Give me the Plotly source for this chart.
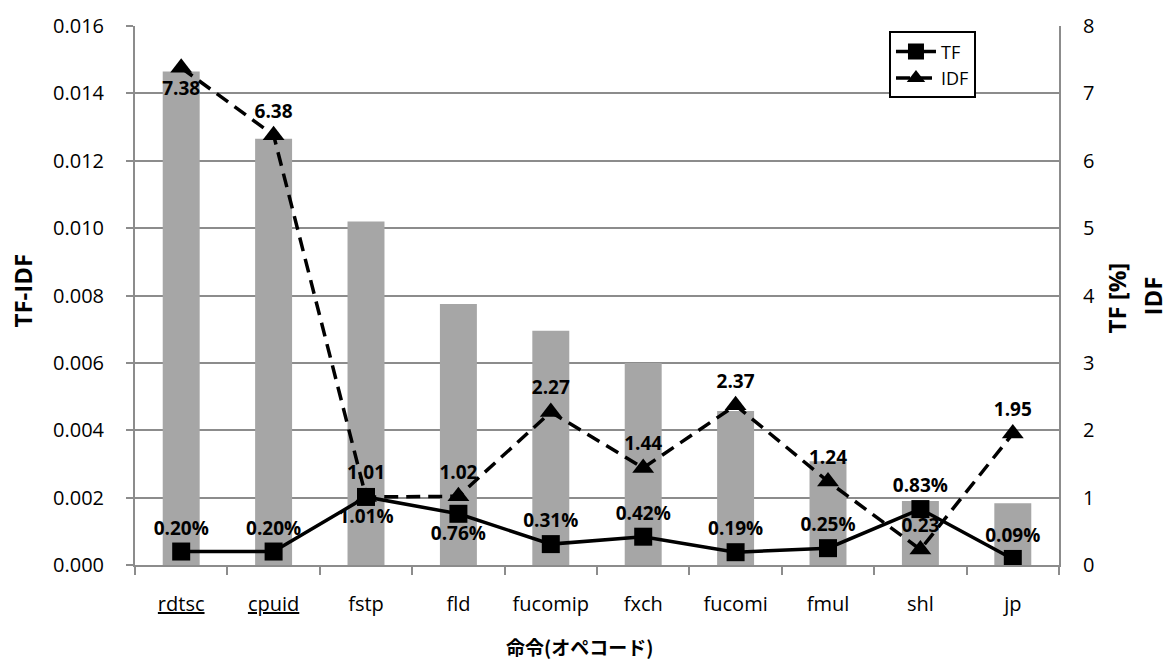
import plotly.graph_objects as go

# Opcodes ranked by TF-IDF
opcodes = ["rdtsc", "cpuid", "fstp", "fld", "fucomip", "fxch", "fucomi", "fmul", "shl", "jp"]
tick_labels = ["<u>rdtsc</u>", "<u>cpuid</u>", "fstp", "fld", "fucomip", "fxch", "fucomi", "fmul", "shl", "jp"]

tfidf = [0.01465, 0.01265, 0.0102, 0.00775, 0.00695, 0.0060, 0.00457, 0.00308, 0.0019, 0.00183]
tf_pct = [0.20, 0.20, 1.01, 0.76, 0.31, 0.42, 0.19, 0.25, 0.83, 0.09]
idf = [7.38, 6.38, 1.01, 1.02, 2.27, 1.44, 2.37, 1.24, 0.23, 1.95]

tf_label_pos = ["top center", "top center", "bottom center", "bottom center", "top center",
                "top center", "top center", "top center", "top center", "top center"]
idf_label_pos = ["bottom center"] + ["top center"] * 9

FONT = "Open Sans, Liberation Sans, sans-serif"
JP_FONT = "Noto Sans CJK JP"
GRID = "#8c8c8c"
TICK_SIZE = 20
LABEL_SIZE = 19
TITLE_SIZE = 24

fig = go.Figure()

fig.add_trace(go.Bar(
    x=opcodes, y=tfidf, name="TF-IDF", marker=dict(color="#a6a6a6", line=dict(width=0)),
    width=0.4, showlegend=False, yaxis="y",
))

fig.add_trace(go.Scatter(
    x=opcodes, y=tf_pct, name="TF", yaxis="y2", mode="lines+markers+text",
    line=dict(color="black", width=3.5),
    marker=dict(symbol="square", size=18, color="black"),
    text=[f"{v:.2f}%" for v in tf_pct], textposition=tf_label_pos,
    textfont=dict(family=FONT, size=LABEL_SIZE, color="black", weight="bold"),
))

fig.add_trace(go.Scatter(
    x=opcodes, y=idf, name="IDF", yaxis="y2", mode="lines+markers+text",
    line=dict(color="black", width=3.5, dash="14px,8px"),
    marker=dict(symbol="triangle-up", size=19, color="black"),
    text=[f"{v:.2f}" for v in idf], textposition=idf_label_pos,
    textfont=dict(family=FONT, size=LABEL_SIZE, color="black", weight="bold"),
))

# Axis titles placed relative to the plot area edges
titles = [
    dict(text="<b>命令(オペコード)</b>", x=0.5, y=0, xshift=-18, yshift=-81,
         textangle=0, font=dict(family=JP_FONT, size=19)),
    dict(text="<b>TF-IDF</b>", x=0, y=0.5, xshift=-113, yshift=5,
         textangle=-90, font=dict(family=FONT, size=TITLE_SIZE)),
    dict(text="<b>TF [%]</b>", x=1, y=0.5, xshift=57, yshift=-3,
         textangle=-90, font=dict(family=FONT, size=TITLE_SIZE)),
    dict(text="<b>IDF</b>", x=1, y=0.5, xshift=93, yshift=-1,
         textangle=-90, font=dict(family=FONT, size=TITLE_SIZE)),
]
annotations = [
    dict(xref="paper", yref="paper", showarrow=False, xanchor="center", yanchor="middle", **t)
    for t in titles
]

fig.update_layout(
    width=1169, height=662,
    margin=dict(l=135, r=110, t=20, b=97),
    paper_bgcolor="white", plot_bgcolor="white",
    font=dict(family=FONT, size=TICK_SIZE, color="black"),
    annotations=annotations,
    xaxis=dict(
        tickmode="array", tickvals=opcodes, ticktext=tick_labels,
        range=[-0.5, 9.5], tickson="boundaries", ticks="outside", ticklen=8,
        tickcolor=GRID, tickwidth=2, showline=True, linecolor=GRID, linewidth=2,
        showgrid=False, ticklabelstandoff=20, tickfont=dict(size=TICK_SIZE),
    ),
    yaxis=dict(
        range=[0, 0.016], dtick=0.002, tickformat=".3f",
        ticks="outside", ticklen=7, tickcolor=GRID, tickwidth=2,
        showline=True, linecolor=GRID, linewidth=2,
        showgrid=True, gridcolor=GRID, gridwidth=2, zeroline=False,
        ticklabelstandoff=18, tickfont=dict(size=TICK_SIZE),
    ),
    yaxis2=dict(
        range=[0, 8], dtick=1, overlaying="y", side="right",
        showline=True, linecolor=GRID, linewidth=2, showgrid=False, zeroline=False,
        ticks="", ticklabelstandoff=18, tickfont=dict(size=TICK_SIZE),
    ),
    legend=dict(
        x=0.816, y=0.99, xanchor="left", yanchor="top",
        bgcolor="white", bordercolor="black", borderwidth=2,
        font=dict(size=18), tracegroupgap=0, itemwidth=40,
    ),
)

fig.write_html("out.html")
